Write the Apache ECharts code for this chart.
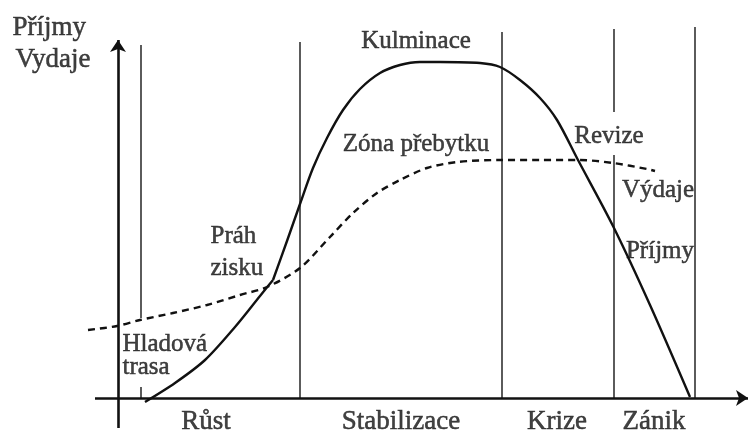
<!DOCTYPE html>
<html>
<head>
<meta charset="utf-8">
<script src="https://cdn.jsdelivr.net/npm/echarts@6/dist/echarts.min.js"></script>
<style>
  html, body { margin: 0; background: #fff; }
  #chart { width: 750px; height: 440px; }
</style>
</head>
<body>
<div id="chart"></div>
<script>
// osa x = cas, osa y = castka; pocatek je v pruseciku os
const prijmy = [
  [27, -4], [57, 15], [87, 38], [117, 71], [142, 102], [155, 118],
  [169, 157], [182, 194], [195, 230], [209, 260], [225, 288], [242, 309],
  [262, 325], [282, 333], [302, 336], [322, 336], [362, 335], [382, 331],
  [402, 318], [422, 300], [439, 278], [460, 238], [495, 172], [532, 93], [572, 1]
];
const prahZisku = 5; // index bodu zlomu krivky prijmu
const vydaje = [
  [-30, 68], [-1, 72], [22, 78], [55, 85], [89, 93], [122, 103], [149, 111], [182, 130],
  [212, 161], [235, 185], [259, 205], [282, 218], [309, 230], [339, 236], [382, 238],
  [422, 238], [462, 238], [495, 235], [529, 229], [537, 227]
];
// hranice fazi: [x, y od, y do]
const hranice = [
  [23, 80, 353], [23, 0, 11], [182, 0, 356], [384, 0, 366],
  [496, 286, 369], [496, 0, 243], [577, 0, 371]
];
// osy: [x1, y1, x2, y2]
const osy = [[0, -30, 0, 358], [-23, 0, 630, 0]];
const faze = ['Růst', 'Stabilizace', 'Krize', 'Zánik'];
const fazeX = [88, 283, 439, 536];
const popisky = [
  ['Kulminace', 298, 357], ['Zóna přebytku', 298, 254], ['Revize', 491, 262],
  ['Výdaje', 540, 208], ['Příjmy', 542, 147]
];
const popiskyVlevo = [
  ['Práh', 92, 162], ['zisku', 92, 130], ['Hladová', 4, 54], ['trasa', 4, 31]
];
const osaY = [['Příjmy', -106, 370], ['Vydaje', -103, 338]];

const text = (size) => ({
  fontFamily: 'Liberation Serif', fontSize: size, color: '#111',
  textBorderColor: '#111', textBorderWidth: 0.5
});
const krivka = { color: '#111', width: 2.4 };

const textSerie = (data, size, position) => ({
  type: 'scatter',
  symbolSize: 1,
  itemStyle: { color: 'transparent' },
  label: { show: true, position: position, distance: 0, formatter: '{b}', ...text(size) },
  data: data
});

const myChart = echarts.init(document.getElementById('chart'));
const option = {
  animation: false,
  grid: { left: 0, right: 0, top: 0, bottom: 0 },
  xAxis: { type: 'value', min: -118, max: 632, show: false },
  yAxis: { type: 'value', min: -42, max: 398, show: false },
  series: [
    {
      type: 'lines',
      coordinateSystem: 'cartesian2d',
      symbol: 'none',
      lineStyle: { color: '#333', width: 1.6, opacity: 1 },
      data: hranice.map(h => ({ coords: [[h[0], h[1]], [h[0], h[2]]] }))
    },
    {
      type: 'lines',
      coordinateSystem: 'cartesian2d',
      symbol: ['none', 'arrow'],
      symbolSize: 12,
      lineStyle: { color: '#111', width: 2.6, opacity: 1 },
      data: osy.map(o => ({ coords: [[o[0], o[1]], [o[2], o[3]]] }))
    },
    {
      name: 'Příjmy',
      type: 'line',
      data: prijmy.slice(0, prahZisku + 1),
      smooth: 0.3,
      symbol: 'none',
      lineStyle: krivka
    },
    {
      name: 'Příjmy',
      type: 'line',
      data: prijmy.slice(prahZisku),
      smooth: 0.3,
      symbol: 'none',
      lineStyle: krivka
    },
    {
      name: 'Výdaje',
      type: 'line',
      data: vydaje,
      smooth: 0.3,
      symbol: 'none',
      lineStyle: { ...krivka, type: [7, 5] }
    },
    textSerie(popisky.map(p => ({ name: p[0], value: [p[1], p[2]] })), 25, 'inside'),
    textSerie(faze.map((f, i) => ({ name: f, value: [fazeX[i], -24] })), 27, 'inside'),
    textSerie(popiskyVlevo.map(p => ({ name: p[0], value: [p[1], p[2]] })), 25, 'right'),
    textSerie(osaY.map(p => ({ name: p[0], value: [p[1], p[2]] })), 27, 'right')
  ]
};
myChart.setOption(option);
</script>
</body>
</html>
